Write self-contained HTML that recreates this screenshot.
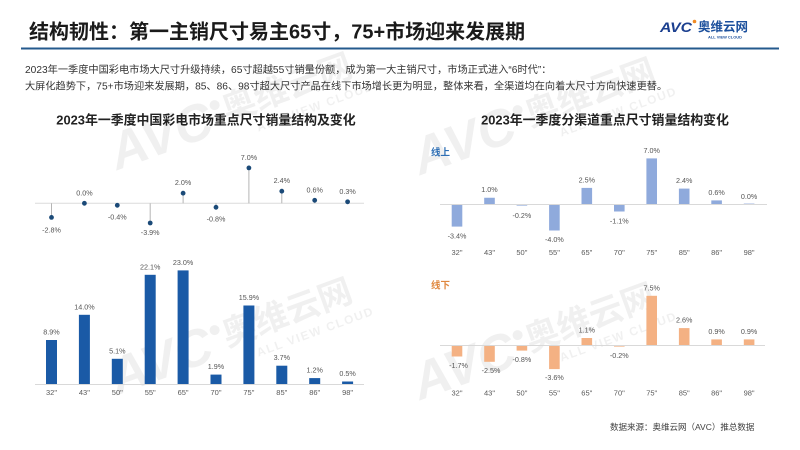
<!DOCTYPE html>
<html>
<head>
<meta charset="utf-8">
<style>
  html,body{margin:0;padding:0;background:#fff;}
  svg{display:block;font-family:"Liberation Sans","Noto Sans CJK SC",sans-serif;}
</style>
</head>
<body>
<svg width="800" height="450" viewBox="0 0 800 450" xmlns="http://www.w3.org/2000/svg">
  <rect width="800" height="450" fill="#fff"/>

  <!-- watermarks -->
  <g fill="#000" fill-opacity="0.06" font-weight="bold">
    <g transform="translate(285,313) rotate(-20)">
      <text x="-80" y="20" font-size="52" font-style="italic" text-anchor="end">AVC</text>
      <circle cx="-72" cy="-8" r="5"/>
      <text x="-66" y="12" font-size="34">奥维云网</text>
      <text x="-40" y="32" font-size="12" letter-spacing="1.5">ALL VIEW CLOUD</text>
    </g>
    <g transform="translate(588,318) rotate(-20)">
      <text x="-80" y="20" font-size="52" font-style="italic" text-anchor="end">AVC</text>
      <circle cx="-72" cy="-8" r="5"/>
      <text x="-66" y="12" font-size="34">奥维云网</text>
      <text x="-40" y="32" font-size="12" letter-spacing="1.5">ALL VIEW CLOUD</text>
    </g>
    <g transform="translate(285,88) rotate(-20)">
      <text x="-80" y="20" font-size="52" font-style="italic" text-anchor="end">AVC</text>
      <circle cx="-72" cy="-8" r="5"/>
      <text x="-66" y="12" font-size="34">奥维云网</text>
      <text x="-40" y="32" font-size="12" letter-spacing="1.5">ALL VIEW CLOUD</text>
    </g>
    <g transform="translate(588,93) rotate(-20)">
      <text x="-80" y="20" font-size="52" font-style="italic" text-anchor="end">AVC</text>
      <circle cx="-72" cy="-8" r="5"/>
      <text x="-66" y="12" font-size="34">奥维云网</text>
      <text x="-40" y="32" font-size="12" letter-spacing="1.5">ALL VIEW CLOUD</text>
    </g>
  </g>

  <!-- header -->
  <text x="29" y="38.5" font-size="20" font-weight="bold" fill="#1a1a1a">结构韧性：第一主销尺寸易主65寸，75+市场迎来发展期</text>
  <rect x="21" y="47.5" width="758" height="2" fill="#245a8d"/>

  <!-- logo -->
  <text x="660" y="32" font-size="14" font-weight="900" font-style="italic" fill="#1b3f8f" textLength="32" lengthAdjust="spacingAndGlyphs">AVC</text>
  <circle cx="694.5" cy="21.5" r="1.8" fill="#f08a24"/>
  <text x="698" y="31" font-size="12.5" font-weight="bold" fill="#1b4f9c">奥维云网</text>
  <text x="708" y="38.5" font-size="4" font-weight="bold" fill="#1b4f9c" textLength="34" lengthAdjust="spacingAndGlyphs">ALL VIEW CLOUD</text>

  <!-- subtitle -->
  <text x="25" y="72.8" font-size="10.2" fill="#333">2023年一季度中国彩电市场大尺寸升级持续，65寸超越55寸销量份额，成为第一大主销尺寸，市场正式进入“6时代”：</text>
  <text x="25" y="89.5" font-size="10.2" fill="#333">大屏化趋势下，75+市场迎来发展期，85、86、98寸超大尺寸产品在线下市场增长更为明显，整体来看，全渠道均在向着大尺寸方向快速更替。</text>

  <!-- chart titles -->
  <text x="206" y="124.5" font-size="12.9" font-weight="bold" fill="#222" text-anchor="middle">2023年一季度中国彩电市场重点尺寸销量结构及变化</text>
  <text x="605" y="124.5" font-size="12.9" font-weight="bold" fill="#222" text-anchor="middle">2023年一季度分渠道重点尺寸销量结构变化</text>

  <!-- LEFT: lollipop -->
  <line x1="35" y1="203.3" x2="364" y2="203.3" stroke="#dcdcdc" stroke-width="1"/>
  <g stroke="#b5b5b5" stroke-width="1">
    <line x1="51.5" y1="203.3" x2="51.5" y2="217.4"/>
    <line x1="117.3" y1="203.3" x2="117.3" y2="205.3"/>
    <line x1="150.2" y1="203.3" x2="150.2" y2="223.0"/>
    <line x1="183.1" y1="203.3" x2="183.1" y2="193.2"/>
    <line x1="216.0" y1="203.3" x2="216.0" y2="207.3"/>
    <line x1="248.9" y1="203.3" x2="248.9" y2="167.9"/>
    <line x1="281.8" y1="203.3" x2="281.8" y2="191.2"/>
    <line x1="314.7" y1="203.3" x2="314.7" y2="200.3"/>
    <line x1="347.6" y1="203.3" x2="347.6" y2="201.8"/>
  </g>
  <g fill="#1b4a78">
    <circle cx="51.5" cy="217.4" r="2.4"/>
    <circle cx="84.4" cy="203.3" r="2.4"/>
    <circle cx="117.3" cy="205.3" r="2.4"/>
    <circle cx="150.2" cy="223.0" r="2.4"/>
    <circle cx="183.1" cy="193.2" r="2.4"/>
    <circle cx="216.0" cy="207.3" r="2.4"/>
    <circle cx="248.9" cy="167.9" r="2.4"/>
    <circle cx="281.8" cy="191.2" r="2.4"/>
    <circle cx="314.7" cy="200.3" r="2.4"/>
    <circle cx="347.6" cy="201.8" r="2.4"/>
  </g>
  <g font-size="7.2" fill="#555" text-anchor="middle">
    <text x="51.5" y="232.4">-2.8%</text>
    <text x="84.4" y="195.3">0.0%</text>
    <text x="117.3" y="219.3">-0.4%</text>
    <text x="150.2" y="235.0">-3.9%</text>
    <text x="183.1" y="185.2">2.0%</text>
    <text x="216.0" y="221.3">-0.8%</text>
    <text x="248.9" y="159.9">7.0%</text>
    <text x="281.8" y="183.2">2.4%</text>
    <text x="314.7" y="192.3">0.6%</text>
    <text x="347.6" y="193.8">0.3%</text>
  </g>

  <!-- LEFT: bars -->
  <g fill="#1a5aa6">
    <rect x="46.0" y="340.0" width="11" height="44.0"/>
    <rect x="78.9" y="314.8" width="11" height="69.2"/>
    <rect x="111.8" y="358.8" width="11" height="25.2"/>
    <rect x="144.7" y="274.8" width="11" height="109.2"/>
    <rect x="177.6" y="270.4" width="11" height="113.6"/>
    <rect x="210.5" y="374.6" width="11" height="9.4"/>
    <rect x="243.4" y="305.5" width="11" height="78.5"/>
    <rect x="276.3" y="365.7" width="11" height="18.3"/>
    <rect x="309.2" y="378.1" width="11" height="5.9"/>
    <rect x="342.1" y="381.5" width="11" height="2.5"/>
  </g>
  <line x1="35" y1="384.5" x2="364" y2="384.5" stroke="#d9d9d9" stroke-width="1"/>
  <g font-size="7.2" fill="#555" text-anchor="middle">
    <text x="51.5" y="334.5">8.9%</text>
    <text x="84.4" y="309.3">14.0%</text>
    <text x="117.3" y="353.3">5.1%</text>
    <text x="150.2" y="269.3">22.1%</text>
    <text x="183.1" y="264.9">23.0%</text>
    <text x="216.0" y="369.1">1.9%</text>
    <text x="248.9" y="300.0">15.9%</text>
    <text x="281.8" y="360.2">3.7%</text>
    <text x="314.7" y="372.6">1.2%</text>
    <text x="347.6" y="376.0">0.5%</text>
  </g>
  <g font-size="7.5" fill="#595959" text-anchor="middle">
    <text x="51.5" y="395">32"</text>
    <text x="84.4" y="395">43"</text>
    <text x="117.3" y="395">50"</text>
    <text x="150.2" y="395">55"</text>
    <text x="183.1" y="395">65"</text>
    <text x="216.0" y="395">70"</text>
    <text x="248.9" y="395">75"</text>
    <text x="281.8" y="395">85"</text>
    <text x="314.7" y="395">86"</text>
    <text x="347.6" y="395">98"</text>
  </g>

  <!-- RIGHT: online -->
  <text x="431" y="155.5" font-size="9.5" font-weight="bold" fill="#2e6fb5">线上</text>
  <g fill="#8faadc">
    <rect x="451.7" y="204.3" width="10.6" height="22.3"/>
    <rect x="484.2" y="197.75" width="10.6" height="6.55"/>
    <rect x="516.6" y="204.3" width="10.6" height="1.3"/>
    <rect x="549.1" y="204.3" width="10.6" height="26.2"/>
    <rect x="581.5" y="187.9" width="10.6" height="16.4"/>
    <rect x="614.0" y="204.3" width="10.6" height="7.2"/>
    <rect x="646.4" y="158.4" width="10.6" height="45.9"/>
    <rect x="678.9" y="188.6" width="10.6" height="15.7"/>
    <rect x="711.3" y="200.4" width="10.6" height="3.9"/>
    <rect x="743.8" y="203.6" width="10.6" height="1"/>
  </g>
  <line x1="440" y1="204.5" x2="767" y2="204.5" stroke="#d9d9d9" stroke-width="1"/>
  <g font-size="7.2" fill="#555" text-anchor="middle">
    <text x="457.0" y="238.3">-3.4%</text>
    <text x="489.5" y="192.2">1.0%</text>
    <text x="521.9" y="217.8">-0.2%</text>
    <text x="554.4" y="242.2">-4.0%</text>
    <text x="586.8" y="182.4">2.5%</text>
    <text x="619.3" y="223.3">-1.1%</text>
    <text x="651.7" y="152.9">7.0%</text>
    <text x="684.2" y="183.1">2.4%</text>
    <text x="716.6" y="194.9">0.6%</text>
    <text x="749.1" y="198.8">0.0%</text>
  </g>
  <g font-size="7.5" fill="#595959" text-anchor="middle">
    <text x="457.0" y="255">32"</text>
    <text x="489.5" y="255">43"</text>
    <text x="521.9" y="255">50"</text>
    <text x="554.4" y="255">55"</text>
    <text x="586.8" y="255">65"</text>
    <text x="619.3" y="255">70"</text>
    <text x="651.7" y="255">75"</text>
    <text x="684.2" y="255">85"</text>
    <text x="716.6" y="255">86"</text>
    <text x="749.1" y="255">98"</text>
  </g>

  <!-- RIGHT: offline -->
  <text x="431" y="288.5" font-size="9.5" font-weight="bold" fill="#e0883f">线下</text>
  <g fill="#f4b183">
    <rect x="451.7" y="345.3" width="10.6" height="11.2"/>
    <rect x="484.2" y="345.3" width="10.6" height="16.5"/>
    <rect x="516.6" y="345.3" width="10.6" height="5.3"/>
    <rect x="549.1" y="345.3" width="10.6" height="23.8"/>
    <rect x="581.5" y="338.0" width="10.6" height="7.3"/>
    <rect x="614.0" y="345.3" width="10.6" height="1.3"/>
    <rect x="646.4" y="295.8" width="10.6" height="49.5"/>
    <rect x="678.9" y="328.1" width="10.6" height="17.2"/>
    <rect x="711.3" y="339.4" width="10.6" height="5.9"/>
    <rect x="743.8" y="339.4" width="10.6" height="5.9"/>
  </g>
  <line x1="440" y1="345.5" x2="765" y2="345.5" stroke="#d9d9d9" stroke-width="1"/>
  <g font-size="7.2" fill="#555" text-anchor="middle">
    <text x="458.5" y="368.2">-1.7%</text>
    <text x="491.0" y="373.2">-2.5%</text>
    <text x="521.9" y="361.8">-0.8%</text>
    <text x="554.4" y="379.8">-3.6%</text>
    <text x="586.8" y="332.5">1.1%</text>
    <text x="619.3" y="357.8">-0.2%</text>
    <text x="651.7" y="290.3">7.5%</text>
    <text x="684.2" y="322.6">2.6%</text>
    <text x="716.6" y="333.9">0.9%</text>
    <text x="749.1" y="333.9">0.9%</text>
  </g>
  <g font-size="7.5" fill="#595959" text-anchor="middle">
    <text x="457.0" y="395.5">32"</text>
    <text x="489.5" y="395.5">43"</text>
    <text x="521.9" y="395.5">50"</text>
    <text x="554.4" y="395.5">55"</text>
    <text x="586.8" y="395.5">65"</text>
    <text x="619.3" y="395.5">70"</text>
    <text x="651.7" y="395.5">75"</text>
    <text x="684.2" y="395.5">85"</text>
    <text x="716.6" y="395.5">86"</text>
    <text x="749.1" y="395.5">98"</text>
  </g>

  <!-- source -->
  <text x="610" y="429.8" font-size="8.5" fill="#404040">数据来源：奥维云网（AVC）推总数据</text>
</svg>
</body>
</html>
